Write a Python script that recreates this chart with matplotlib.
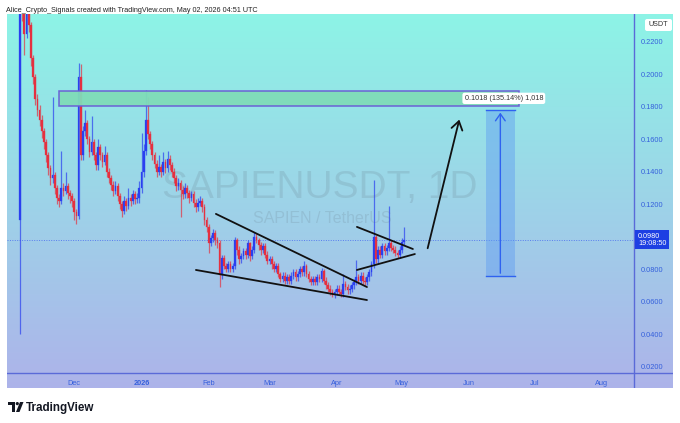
import matplotlib
matplotlib.use("Agg")
import matplotlib.pyplot as plt
import matplotlib.dates as mdates
import matplotlib.transforms as mtransforms
import numpy as np
import pandas as pd
from matplotlib.patches import Rectangle, FancyBboxPatch, Polygon, Circle

# ---------------- data ----------------
start_date = "2025-11-06"

opens = [.110,.245,.238,.225,.243,.230,.210,.198,.185,.178,
         .172,.165,.158,.150,.142,.136,.138,.130,.124,.122,
         .130,.128,.131,.127,.125,.122,.115,.113,.198,.150,
         .165,.170,.160,.152,.158,.150,.144,.155,.150,.146,
         .150,.140,.136,.132,.128,.131,.125,.120,.116,.122,
         .119,.124,.122,.126,.123,.124,.130,.140,.153,.172,
         .163,.157,.150,.145,.140,.143,.140,.146,.142,.148,
         .144,.140,.136,.131,.133,.129,.126,.130,.127,.124,
         .126,.121,.118,.121,.122,.118,.110,.106,.096,.099,
         .102,.098,.096,.0765,.087,.082,.080,.083,.080,.082,
         .098,.092,.086,.088,.091,.089,.096,.088,.092,.100,
         .098,.095,.092,.094,.089,.085,.086,.083,.080,.082,
         .077,.074,.076,.073,.075,.073,.076,.078,.075,.077,
         .080,.078,.082,.077,.074,.072,.074,.072,.075,.074,
         .079,.073,.070,.068,.066,.064,.066,.068,.066,.065,
         .071,.069,.067,.068,.070,.072,.075,.073,.076,.073,
         .072,.075,.078,.083,.100,.086,.092,.089,.094,.091,
         .093,.096,.093,.092,.090,.089,.092,.097]

closes = [.245,.238,.225,.243,.230,.210,.198,.185,.178,.172,
          .165,.158,.150,.142,.136,.138,.130,.124,.122,.130,
          .128,.131,.127,.125,.122,.115,.113,.198,.150,.165,
          .170,.160,.152,.158,.150,.144,.155,.150,.146,.150,
          .140,.136,.132,.128,.131,.125,.120,.116,.122,.119,
          .124,.122,.126,.123,.124,.130,.140,.153,.172,.163,
          .157,.150,.145,.140,.143,.140,.146,.142,.148,.144,
          .140,.136,.131,.133,.129,.126,.130,.127,.124,.126,
          .121,.118,.121,.122,.118,.110,.106,.096,.099,.102,
          .098,.096,.0765,.087,.082,.080,.083,.080,.082,.098,
          .092,.086,.088,.091,.089,.096,.088,.092,.100,.098,
          .095,.092,.094,.089,.085,.086,.083,.080,.082,.077,
          .074,.076,.073,.075,.073,.076,.078,.075,.077,.080,
          .078,.082,.077,.074,.072,.074,.072,.075,.074,.079,
          .073,.070,.068,.066,.064,.066,.068,.066,.065,.071,
          .069,.067,.068,.070,.072,.075,.073,.076,.073,.072,
          .075,.078,.083,.100,.086,.092,.089,.094,.091,.093,
          .096,.093,.092,.090,.089,.092,.097,.098]

highs = [.262,.250,.241,.248,.246,.232,.212,.200,.188,.181,
         .175,.167,.160,.152,.144,.186,.140,.132,.126,.153,
         .133,.140,.133,.129,.127,.124,.117,.207,.206,.168,
         .178,.172,.162,.174,.160,.152,.160,.157,.152,.156,
         .152,.142,.138,.134,.134,.133,.127,.122,.125,.124,
         .130,.126,.129,.128,.127,.134,.164,.157,.190,.186,
         .165,.159,.152,.147,.150,.145,.152,.148,.153,.150,
         .146,.142,.138,.136,.135,.131,.133,.132,.129,.128,
         .128,.123,.124,.125,.124,.120,.112,.108,.101,.105,
         .104,.100,.098,.089,.089,.084,.085,.085,.084,.100,
         .099,.094,.090,.093,.093,.098,.097,.094,.103,.102,
         .099,.097,.096,.096,.091,.088,.088,.085,.084,.084,
         .078,.078,.078,.077,.077,.078,.080,.080,.079,.082,
         .082,.085,.083,.079,.076,.076,.076,.077,.077,.081,
         .080,.075,.072,.070,.068,.068,.070,.070,.068,.077,
         .073,.071,.070,.072,.074,.0857,.077,.078,.078,.075,
         .077,.080,.085,.135,.101,.094,.094,.096,.096,.095,
         .119,.098,.095,.094,.092,.094,.099,.106]

lows = [.040,.233,.212,.222,.226,.205,.194,.181,.174,.168,
        .161,.154,.146,.138,.132,.133,.126,.120,.118,.120,
        .125,.126,.123,.121,.118,.110,.108,.111,.147,.147,
        .162,.157,.149,.150,.147,.141,.141,.147,.143,.144,
        .137,.133,.129,.125,.126,.122,.117,.112,.114,.116,
        .117,.119,.120,.120,.121,.121,.127,.137,.150,.160,
        .154,.147,.142,.137,.138,.137,.138,.139,.140,.141,
        .137,.133,.128,.129,.112,.123,.124,.124,.121,.122,
        .118,.115,.116,.119,.115,.107,.103,.090,.094,.097,
        .095,.093,.069,.074,.080,.078,.078,.078,.078,.080,
        .089,.083,.084,.086,.086,.087,.085,.086,.090,.096,
        .092,.089,.090,.087,.083,.083,.080,.078,.078,.075,
        .072,.072,.071,.071,.071,.071,.074,.073,.073,.075,
        .076,.076,.075,.072,.070,.070,.070,.070,.072,.072,
        .071,.068,.066,.064,.063,.062,.064,.064,.063,.063,
        .067,.065,.065,.066,.068,.070,.071,.071,.071,.070,
        .070,.073,.076,.081,.084,.084,.087,.087,.089,.089,
        .091,.091,.090,.088,.087,.087,.090,.095]

y_ticks = [0.02, 0.04, 0.06, 0.08, 0.10, 0.12, 0.14, 0.16, 0.18, 0.20, 0.22]
x_tick_dates = ["2025-12-01", "2026-01-01", "2026-02-01", "2026-03-01", "2026-04-01",
                "2026-05-01", "2026-06-01", "2026-07-01", "2026-08-01"]
x_tick_labels = ["Dec", "2026", "Feb", "Mar", "Apr", "May", "Jun", "Jul", "Aug"]

last_price = 0.0980
countdown = "19:08:50"

# drawings (date, price)
wedge_upper = [("2026-02-04 07:00", 0.114), ("2026-04-14 22:00", 0.069)]
wedge_lower = [("2026-01-26 02:00", 0.0795), ("2026-04-14 22:00", 0.061)]
tri_upper = [("2026-04-10 07:00", 0.106), ("2026-05-06 02:00", 0.0924)]
tri_lower = [("2026-04-10 07:00", 0.0795), ("2026-05-07 00:00", 0.0893)]
arrow_pts = [("2026-05-12 14:00", 0.0912), ("2026-05-27 19:00", 0.1737)]
target_box = ("2025-11-24", "2026-06-24", 0.1805, 0.1897)
target_label = "0.1018 (135.14%) 1,018"
target_label_date = "2026-06-17"
measure_box = ("2026-06-08 17:00", "2026-06-22 02:00", 0.0758, 0.178)

# ---------------- figure ----------------
W, H = 680, 423
fig = plt.figure(figsize=(6.8, 4.23), dpi=100)
fig.patch.set_facecolor("white")

def fx(px):
    return px / W

def fy(py):
    return 1 - py / H

FONT = ["Liberation Sans", "DejaVu Sans"]
BLUE_TXT = "#3560dc"
AXLINE = "#5a6ad8"

# gradient panel
bg = fig.add_axes([fx(7), fy(388), fx(673) - fx(7), fy(14) - fy(388)], zorder=0)
grad = np.linspace(0, 1, 256)[:, None, None]
top_c = np.array([0x8d, 0xf4, 0xe6]) / 255.0
bot_c = np.array([0xad, 0xb3, 0xea]) / 255.0
img = top_c[None, None, :] * (1 - grad) + bot_c[None, None, :] * grad
bg.imshow(img, aspect="auto", extent=[0, 1, 0, 1])
bg.set_xlim(0, 1); bg.set_ylim(0, 1)
bg.axis("off")
bg.plot([0, 1], [(388 - 373) / 374] * 2, color=AXLINE, lw=1.0)
bg.plot([(634 - 7) / 666] * 2, [0, 1], color=AXLINE, lw=1.0)

# main axes
ax = fig.add_axes([fx(7), fy(373), fx(634) - fx(7), fy(14) - fy(373)], zorder=1)
ax.set_facecolor("none")

dates = pd.date_range(start_date, periods=len(closes), freq="D")
xd = mdates.date2num(dates)
o = np.array(opens); c = np.array(closes); h = np.array(highs); l = np.array(lows)
up = c >= o
UP_C = "#2a3ff0"
DN_C = "#e5303f"
cols = np.where(up, UP_C, DN_C)

ax.vlines(xd, l, h, colors=cols, lw=0.9, alpha=0.7, zorder=3)
body_bottom = np.minimum(o, c)
body_h = np.maximum(np.abs(c - o), 0.0008)
ax.bar(xd, body_h, bottom=body_bottom, width=0.8, color=cols, edgecolor=cols, lw=0.2, zorder=4)

x0 = mdates.date2num(pd.Timestamp(start_date)) - 6.0
x1 = mdates.date2num(pd.Timestamp(start_date)) + 283.0
ax.set_xlim(x0, x1)
ax.set_ylim(0.0161, 0.237)

for s in ax.spines.values():
    s.set_visible(False)

ax.yaxis.tick_right()
ax.set_yticks(y_ticks)
ax.set_yticklabels([f"{v:.4f}" for v in y_ticks], fontsize=5.3, color=BLUE_TXT, family=FONT)
ax.tick_params(axis="y", length=0, pad=5)
xt = mdates.date2num(pd.to_datetime(x_tick_dates))
ax.set_xticks(xt)
ax.set_xticklabels(x_tick_labels, fontsize=5.3, color=BLUE_TXT, family=FONT)
for lab in ax.get_xticklabels():
    if lab.get_text() == "2026":
        lab.set_fontweight("bold")
ax.tick_params(axis="x", length=0, pad=5)

# watermark
ax.text(fx(320), fy(188), "SAPIENUSDT, 1D", transform=fig.transFigure, fontsize=28,
        family=FONT, color="#6c8494", alpha=0.22, ha="center", va="center", zorder=1)
ax.text(fx(322), fy(218), "SAPIEN / TetherUS", transform=fig.transFigure, fontsize=11.5,
        family=FONT, color="#6c8494", alpha=0.22, ha="center", va="center", zorder=1)

# current price dotted line
ax.axhline(last_price, color="#3a5af0", lw=0.7, ls=(0, (1, 1.5)), alpha=0.7, zorder=2)

def dn(s):
    return mdates.date2num(pd.Timestamp(s))

# target rectangle
tb0, tb1, tlo, thi = target_box
ax.add_patch(Rectangle((dn(tb0), tlo), dn(tb1) - dn(tb0), thi - tlo,
                       facecolor="#7fdcb8", edgecolor="#6a5cd6", lw=1.1, alpha=0.95, zorder=5))
ax.text(dn(target_label_date), (tlo + thi) / 2, target_label, fontsize=5.2, family=FONT,
        color="#333333", ha="center", va="center", zorder=7,
        bbox=dict(boxstyle="round,pad=0.3,rounding_size=0.3", facecolor="white", edgecolor="none"))

# measure box
mb0, mb1, mlo, mhi = measure_box
ax.add_patch(Rectangle((dn(mb0), mlo), dn(mb1) - dn(mb0), mhi - mlo,
                       facecolor="#5f9cf2", edgecolor="none", alpha=0.45, zorder=4))
ax.plot([dn(mb0), dn(mb1)], [mhi, mhi], color="#2f62f0", lw=1.0, zorder=5)
ax.plot([dn(mb0), dn(mb1)], [mlo, mlo], color="#2f62f0", lw=1.0, zorder=5)
mid = (dn(mb0) + dn(mb1)) / 2
ax.annotate("", xy=(mid, mhi), xytext=(mid, mlo),
            arrowprops=dict(arrowstyle="->,head_length=0.5,head_width=0.35", color="#2f62f0", lw=1.0),
            zorder=6)

# trend lines
for seg in (wedge_upper, wedge_lower, tri_upper, tri_lower):
    ax.plot([dn(seg[0][0]), dn(seg[1][0])], [seg[0][1], seg[1][1]], color="#111111",
            lw=1.3, solid_capstyle="round", zorder=6)

# projection arrow
ax.annotate("", xy=(dn(arrow_pts[1][0]), arrow_pts[1][1]),
            xytext=(dn(arrow_pts[0][0]), arrow_pts[0][1]),
            arrowprops=dict(arrowstyle="->,head_length=0.6,head_width=0.4", color="#111111", lw=1.3),
            zorder=6)

# price label on axis
ytr = mtransforms.blended_transform_factory(ax.transAxes, ax.transData)
ax.text(1.0 + 4 / 627, last_price, f"{last_price:.4f}\n{countdown}", transform=ytr,
        fontsize=5.2, family=FONT, color="white", ha="left", va="center", linespacing=1.0,
        zorder=8, clip_on=False,
        bbox=dict(boxstyle="square,pad=0.35", facecolor="#1d3fe3", edgecolor="none"))

# overlay for header / footer
ov = fig.add_axes([0, 0, 1, 1], zorder=3)
ov.set_xlim(0, W); ov.set_ylim(H, 0)
ov.axis("off")
ov.patch.set_alpha(0)
ov.text(6, 10, "Alice_Crypto_Signals created with TradingView.com, May 02, 2026 04:51 UTC",
        fontsize=5.2, family=FONT, color="#222222", ha="left", va="center")
ov.add_patch(FancyBboxPatch((645, 19), 27, 12, boxstyle="round,pad=0,rounding_size=2",
                            facecolor="white", edgecolor="none"))
ov.text(658.5, 25, "USDT", fontsize=5.2, family=FONT, color="#333333", ha="center", va="center")

# TradingView logo
ov.add_patch(Polygon([(8, 402), (15, 402), (15, 412), (12, 412), (12, 405), (8, 405)],
                     closed=True, facecolor="#131722", edgecolor="none"))
ov.add_patch(Circle((17.3, 403.6), 1.6, facecolor="#131722", edgecolor="none"))
ov.add_patch(Polygon([(20, 402), (23.5, 402), (19.5, 412), (16, 412)],
                     closed=True, facecolor="#131722", edgecolor="none"))
ov.text(26, 407.5, "TradingView", fontsize=8.4, family=FONT, fontweight="bold",
        color="#131722", ha="left", va="center")

fig.savefig("out.png", dpi=100, facecolor="white")
